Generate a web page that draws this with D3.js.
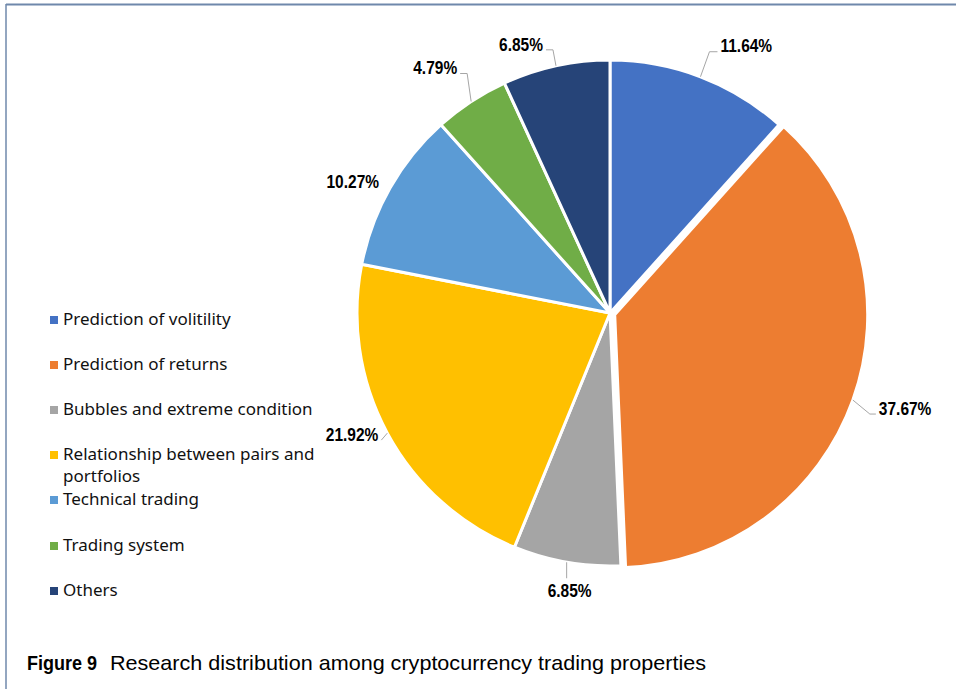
<!DOCTYPE html>
<html><head><meta charset="utf-8">
<script src="https://cdn.jsdelivr.net/npm/d3@7"></script>
<style>body{margin:0;background:#fff}svg{display:block}</style>
</head><body>
<script>
// ---- data ----
const categories = ["Prediction of volitility","Prediction of returns","Bubbles and extreme condition","Relationship between pairs and portfolios","Technical trading","Trading system","Others"];
const values = [11.64, 37.67, 6.85, 21.92, 10.27, 4.79, 6.85];
const labels = ["11.64%","37.67%","6.85%","21.92%","10.27%","4.79%","6.85%"];
const colors = ["#4472C4","#ED7D31","#A5A5A5","#FFC000","#5B9BD5","#70AD47","#264478"];

// ---- layout (not data) ----
const W = 956, H = 689;
const cx = 610, cy = 313, R = 253;
const explode = [0, 5, 0, 0, 0, 0, 0];
// leader elbow offsets from slice edge [dx, dy, tickDir, tickLen]
const leader = [[9,-25,1,8],[17,14,1,6],[0,16,0,0],[-6,7,-1,0],[0,-1,-1,8],[-4,-28,-1,7],[-3,-16,-1,7]];

const svg = d3.select("body").append("svg").attr("width", W).attr("height", H);

// frame
svg.append("line").attr("x1",6).attr("x2",W).attr("y1",4.5).attr("y2",4.5).attr("stroke","#6f88ab").attr("stroke-width",2);
svg.append("line").attr("x1",6).attr("x2",6).attr("y1",4).attr("y2",H).attr("stroke","#6f88ab").attr("stroke-width",1.5);

const pie = d3.pie().value(d => d).sort(null);
const arcs = pie(values);
const arc = d3.arc().innerRadius(0).outerRadius(R);

const g = svg.append("g").attr("transform", `translate(${cx},${cy})`);
g.selectAll("path.slice").data(arcs).join("path")
  .attr("class","slice")
  .attr("d", arc)
  .attr("fill", (d,i) => colors[i])
  .attr("stroke", "#fff").attr("stroke-width", 3).attr("stroke-linejoin","round")
  .attr("transform", (d,i) => {
    const a = (d.startAngle + d.endAngle)/2;
    return `translate(${explode[i]*Math.sin(a)},${-explode[i]*Math.cos(a)})`;
  });

function narrow(t, f) {
  const w = t.node().getComputedTextLength();
  t.attr("textLength", w*f).attr("lengthAdjust","spacingAndGlyphs");
}

// labels
const lab = svg.append("g");
arcs.forEach((d,i) => {
  const a = (d.startAngle + d.endAngle)/2;
  const rr = R + explode[i];
  const ex = cx + rr*Math.sin(a), ey = cy - rr*Math.cos(a);
  const [dx, dy, dir, tl] = leader[i];
  const px = ex + dx, py = ey + dy;
  const pts = [[ex,ey],[px,py]];
  if (tl > 0) pts.push([px + dir*tl, py]);
  if (Math.hypot(dx,dy) > 8) {
    lab.append("path").attr("d", d3.line()(pts)).attr("fill","none").attr("stroke","#a6a6a6").attr("stroke-width",1);
  }
  const endx = px + dir*tl;
  const t = lab.append("text")
    .attr("font-family","'Liberation Sans',Arial,sans-serif")
    .attr("font-weight","bold").attr("font-size",18).attr("fill","#000")
    .attr("dominant-baseline","middle").text(labels[i]);
  if (dir === 0) {
    t.attr("x", px + 3).attr("y", py + 14).attr("text-anchor","middle");
  } else {
    t.attr("x", endx + dir*3).attr("y", py - 4).attr("text-anchor", dir > 0 ? "start" : "end");
  }
  narrow(t, 0.86);
});

// legend
const legY = [320, 365, 410, 455, 500, 546, 591];
const leg = svg.append("g");
categories.forEach((c,i) => {
  leg.append("rect").attr("x",50).attr("y",legY[i]-4).attr("width",8).attr("height",8).attr("fill",colors[i]);
  const t = leg.append("text").attr("x",63).attr("y",legY[i])
    .attr("font-family","'Noto Sans',sans-serif").attr("font-size",17).attr("fill","#111")
    .attr("dominant-baseline","middle");
  if (c.length > 32) {
    const words = c.split(" ");
    t.append("tspan").attr("x",63).text(words.slice(0,4).join(" "));
    t.append("tspan").attr("x",63).attr("dy",22).text(words.slice(4).join(" "));
  } else t.text(c);
});

// caption
const capFont = "'Liberation Sans',Arial,sans-serif";
svg.append("text").attr("x",27).attr("y",664).attr("dominant-baseline","middle")
  .attr("font-family",capFont).attr("font-size",21).attr("font-weight","bold").attr("fill","#000")
  .attr("textLength",70).attr("lengthAdjust","spacingAndGlyphs").text("Figure 9");
svg.append("text").attr("x",110).attr("y",664).attr("dominant-baseline","middle")
  .attr("font-family",capFont).attr("font-size",21).attr("fill","#000")
  .attr("textLength",596).attr("lengthAdjust","spacingAndGlyphs")
  .text("Research distribution among cryptocurrency trading properties");
</script>
</body></html>
